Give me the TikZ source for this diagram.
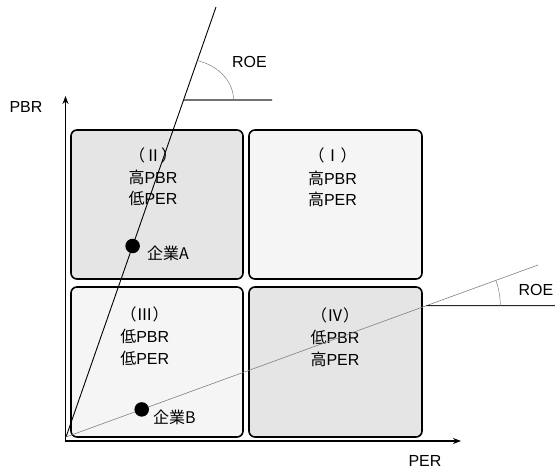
\documentclass[tikz,border=0pt]{standalone}
\usepackage{fontspec}
\setmainfont{Liberation Sans}
\newfontfamily\cjk{Noto Sans CJK JP}
\usetikzlibrary{arrows.meta,calc}
\tikzset{
  quad/.style={draw=black, line width=1.6pt, rounded corners=6pt, inner sep=0pt},
  darkq/.style={quad, fill=black!10},
  lightq/.style={quad, fill=black!4},
  lbl/.style={font=\fontsize{16}{19}\selectfont, inner sep=0pt, anchor=base},
  axis/.style={line width=1.6pt, -{Stealth[length=8pt,width=6pt]}},
  dotc/.style={circle, fill=black, inner sep=0pt, minimum size=14.5pt},
  arcl/.style={gray, line width=0.5pt},
}
\begin{document}
\begin{tikzpicture}[x=1pt,y=-1pt]
\useasboundingbox (0,0) rectangle (555,468);
% quadrants
\node[darkq, minimum width=172pt, minimum height=149pt] (q2) at (157,204.5) {};
\node[lightq, minimum width=173pt, minimum height=149pt] (q1) at (335.5,204.5) {};
\node[lightq, minimum width=172pt, minimum height=150pt] (q3) at (157,362) {};
\node[darkq, minimum width=173pt, minimum height=150pt] (q4) at (335.5,362) {};
% texts
\node[lbl] (t2a) at (153,161.5) {\cjk （Ⅱ）};
\node[lbl] (t2b) at (153,184) {{\cjk 高}PBR};
\node[lbl] (t2c) at (153,205) {{\cjk 低}PER};
\node[lbl] (t1a) at (332.5,161.5) {\cjk （Ⅰ）};
\node[lbl] (t1b) at (332.5,184.5) {{\cjk 高}PBR};
\node[lbl] (t1c) at (332.5,205.5) {{\cjk 高}PER};
\node[lbl] (t3a) at (144.7,320.5) {\cjk （Ⅲ）};
\node[lbl] (t3b) at (144.7,342.5) {{\cjk 低}PBR};
\node[lbl] (t3c) at (144.7,364) {{\cjk 低}PER};
\node[lbl] (t4a) at (335,321) {\cjk （Ⅳ）};
\node[lbl] (t4b) at (335,343) {{\cjk 低}PBR};
\node[lbl] (t4c) at (335,365) {{\cjk 高}PER};
% axes
\coordinate (ax0) at (65.5,441);
\coordinate (ayT) at (65.5,96);
\coordinate (axR) at (461,441);
\draw[axis] (ax0) -- (ayT);
\draw[axis] ($(ax0)+(-0.8,0)$) -- (axR);
\node[lbl] (pbr) at (26,113) {PBR};
\node[lbl] (per) at (425,466) {PER};
% ROE rays
\coordinate (O) at (66,437);
\coordinate (S) at (216,7);
\coordinate (H) at (538,265);
\draw[line width=0.9pt] (O) -- (S);
\draw[gray, line width=0.6pt] (O) -- (H);
\coordinate (P1) at ($(O)!0.7837!(S)$);
\coordinate (P1e) at (272,100);
\draw[line width=1.1pt, black!85] (P1) -- (P1e);
\draw[arcl] ($(P1)+(50,0)$) arc[start angle=0, end angle=-73.6, x radius=50, y radius=41];
\coordinate (P2) at ($(O)!0.7634!(H)$);
\coordinate (P2e) at (556,305.7);
\draw[line width=1pt, black!85] (P2) -- (P2e);
\draw[arcl] ($(P2)+(74,0)$) arc[start angle=0, end angle=-20, radius=74];
\node[lbl] (roe1) at (249.5,67.3) {ROE};
\node[lbl, anchor=base east] (roe2) at (553.5,295) {ROE};
% companies
\node[dotc] (A) at ($(O)!0.4442!(S)$) {};
\node[dotc] (B) at ($(O)!0.1604!(H)$) {};
\node[lbl, anchor=base west] (la) at (147,259.7) {\cjk 企業A};
\node[lbl, anchor=base west] (lb) at (153,423) {\cjk 企業B};
\end{tikzpicture}
\end{document}
